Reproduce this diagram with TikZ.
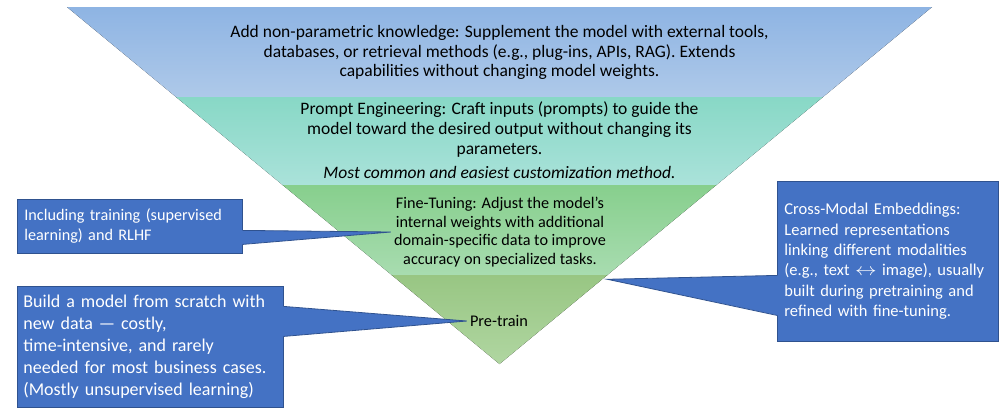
\documentclass[tikz,border=0pt]{standalone}
\usepackage{fontspec}
\setmainfont{Carlito}
\usetikzlibrary{positioning,calc}
\definecolor{layerAtop}{HTML}{8EB4E3}
\definecolor{layerAbot}{HTML}{AEC9E9}
\definecolor{layerBtop}{HTML}{88D8C6}
\definecolor{layerBbot}{HTML}{AAE2DA}
\definecolor{layerCtop}{HTML}{87CF8D}
\definecolor{layerCbot}{HTML}{A8DCB0}
\definecolor{layerDtop}{HTML}{98C683}
\definecolor{layerDbot}{HTML}{B0D6A1}
\definecolor{calloutfill}{HTML}{4472C4}
\definecolor{calloutline}{HTML}{2F528F}

\begin{document}
\begin{tikzpicture}[x=1pt,y=-1pt,font=\fontsize{17.5}{19.8}\selectfont]
  \useasboundingbox (0,0) rectangle (1000,408);
  \tikzset{layertext/.style={align=center,inner sep=3pt},
    callout/.style={fill=calloutfill,draw=calloutline,line width=0.8pt,text=white,
      align=left,anchor=north west,inner sep=7pt},
    pointer/.style={draw=calloutline,line width=0.8pt}}
  % funnel outline
  \coordinate (tl) at (67,7);
  \coordinate (tr) at (932,7);
  \coordinate (apex) at (499.5,364);
  \foreach \ta/\tb/\ctop/\cbot in {0/0.2521/layerAtop/layerAbot,
      0.2521/0.4986/layerBtop/layerBbot,
      0.4986/0.7507/layerCtop/layerCbot,
      0.7507/1/layerDtop/layerDbot}
    \fill[top color=\ctop,bottom color=\cbot]
      ($(tl)!\ta!(apex)$) -- ($(tr)!\ta!(apex)$) -- ($(tr)!\tb!(apex)$) -- ($(tl)!\tb!(apex)$) -- cycle;

  % layer texts
  \node[layertext] (nonparam) at (499.5,52.5) {Add non-parametric knowledge: Supplement the model with external tools,\\
    databases, or retrieval methods (e.g., plug-ins, APIs, RAG). Extends\\
    capabilities without changing model weights.};
  \node[layertext] (prompt) at (499.5,129.5) {Prompt Engineering: Craft inputs (prompts) to guide the\\
    model toward the desired output without changing its\\ parameters.};
  \node[layertext,font=\fontsize{17.5}{19.8}\selectfont\itshape] (common) at (499.5,172) {Most common and easiest customization method.};
  \node[layertext,font=\fontsize{16.2}{18.7}\selectfont] (finetune) at (500,232) {Fine-Tuning: Adjust the model’s\\
    internal weights with additional\\ domain-specific data to improve\\ accuracy on specialized tasks.};
  \node[layertext,font=\fontsize{16.3}{19}\selectfont] (pretrain) at (499,321) {Pre-train};

  % callouts
  \node[callout,minimum width=225pt,minimum height=54pt,text width=211pt,
    font=\fontsize{16.2}{20}\selectfont] (rlhf) at (17,199)
    {Including training (supervised\\ learning) and RLHF};
  \node[callout,minimum width=266pt,minimum height=121pt,text width=254pt,inner xsep=6pt,
    font=\fontsize{18}{22}\selectfont] (scratch) at (17,286)
    {Build a model from scratch with\\ new data — costly,\\ time-intensive, and rarely\\
    needed for most business cases.\\ (Mostly unsupervised learning)};
  \node[callout,minimum width=221pt,minimum height=160pt,text width=207pt,
    font=\fontsize{16.5}{20.3}\selectfont] (crossmodal) at (777,181)
    {Cross-Modal Embeddings:\\ Learned representations\\ linking different modalities\\
    (e.g., text \scalebox{1.25}[1]{$\leftrightarrow$} image), usually\\ built during pretraining and\\ refined with fine-tuning.};

  % pointers
  \coordinate (ftend) at ([xshift=-2pt,yshift=-9pt]finetune.south east);
  \fill[calloutfill] ([xshift=-1pt,yshift=-4pt]rlhf.east) -- (finetune.west) -- ([xshift=-1pt,yshift=-18pt]rlhf.east) -- cycle;
  \draw[pointer] ([yshift=-4pt]rlhf.east) -- (finetune.west) -- ([yshift=-18pt]rlhf.east);
  \fill[calloutfill] ([xshift=-1pt,yshift=40.5pt]scratch.east) -- (pretrain.west) -- ([xshift=-1pt,yshift=10.5pt]scratch.east) -- cycle;
  \draw[pointer] ([yshift=40.5pt]scratch.east) -- (pretrain.west) -- ([yshift=10.5pt]scratch.east);
  \fill[calloutfill] ([xshift=1pt,yshift=-14pt]crossmodal.west) -- (ftend) -- ([xshift=1pt,yshift=-54pt]crossmodal.west) -- cycle;
  \draw[pointer] ([yshift=-14pt]crossmodal.west) -- (ftend) -- ([yshift=-54pt]crossmodal.west);
\end{tikzpicture}
\end{document}
